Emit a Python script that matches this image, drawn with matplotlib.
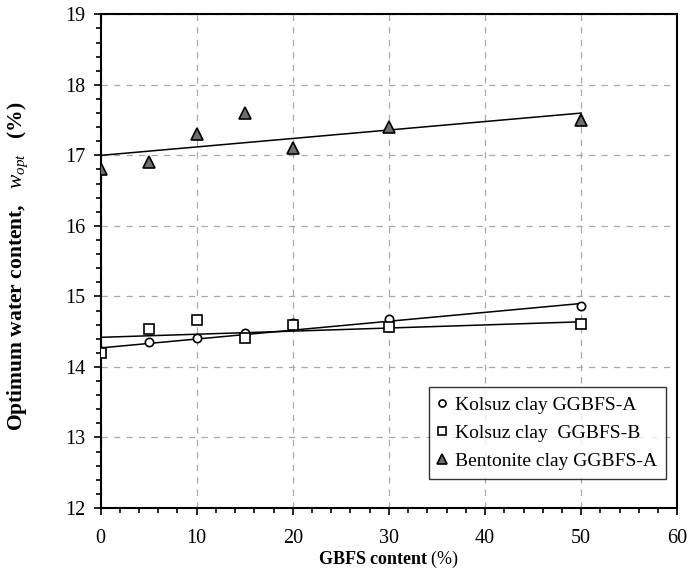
import matplotlib
matplotlib.use("Agg")
import matplotlib.pyplot as plt
from matplotlib.ticker import MultipleLocator

plt.rcParams.update({
    'font.family': 'Liberation Serif',
    'mathtext.fontset': 'custom',
    'mathtext.rm': 'Liberation Serif',
    'mathtext.it': 'Liberation Serif:italic',
    'mathtext.bf': 'Liberation Serif:bold',
})

# GBFS content (%)
gbfs = [0, 5, 10, 15, 20, 30, 50]

# optimum water content (%)
kolsuz_a = [14.22, 14.36, 14.41, 14.48, 14.62, 14.68, 14.87]
kolsuz_b = [14.20, 14.54, 14.66, 14.41, 14.60, 14.57, 14.61]
bentonite_a = [16.8, 16.9, 17.3, 17.6, 17.1, 17.4, 17.5]

# linear trend lines, values at GBFS = 0 and 50
trend_x = [0, 50]
trend_kolsuz_a = [14.27, 14.90]
trend_kolsuz_b = [14.42, 14.64]
trend_bentonite_a = [17.00, 17.60]

fig = plt.figure(figsize=(6.89, 5.74), dpi=100)
ax = fig.add_axes([0.146, 0.115, 0.837, 0.860])

ax.plot(trend_x, trend_kolsuz_a, color='black', lw=1.1, zorder=2)
ax.plot(trend_x, trend_kolsuz_b, color='black', lw=1.1, zorder=2)
ax.plot(trend_x, trend_bentonite_a, color='black', lw=1.1, zorder=2)

ax.plot(gbfs, kolsuz_a, ls='none', marker='o', ms=6, mfc='white', mec='black',
        mew=1.2, label='Kolsuz clay GGBFS-A', zorder=3)
ax.plot(gbfs, kolsuz_b, ls='none', marker='s', ms=7, mfc='white', mec='black',
        mew=1.2, label='Kolsuz clay  GGBFS-B', zorder=4)
ax.plot(gbfs, bentonite_a, ls='none', marker='^', ms=8.5, mfc='#6e6e6e', mec='black',
        mew=1.2, label='Bentonite clay GGBFS-A', zorder=3)

ax.set_xlim(0, 60)
ax.set_ylim(12, 19)
ax.xaxis.set_major_locator(MultipleLocator(10))
ax.xaxis.set_minor_locator(MultipleLocator(2))
ax.yaxis.set_major_locator(MultipleLocator(1))
ax.yaxis.set_minor_locator(MultipleLocator(0.2))
ax.tick_params(which='both', direction='out', labelsize=14.5, width=1.2)
ax.tick_params(which='major', length=5)
ax.tick_params(axis='x', which='major', pad=10)
ax.tick_params(axis='y', which='major', pad=6)
ax.tick_params(which='minor', length=3.5)
for side in ax.spines.values():
    side.set_linewidth(1.5)

ax.grid(which='major', color='#a8a8a8', ls=(0, (5, 5)), lw=0.9)
ax.set_axisbelow(True)

ax.set_xlabel(r'$\mathbf{GBFS\ content}$ (%)', fontsize=13, labelpad=1)
ax.set_ylabel(r'Optimum water content,   $w_{opt}$   (%)', fontsize=15.5,
              fontweight='bold')
ax.yaxis.set_label_coords(-0.123, 0.49)

leg = ax.legend(loc='lower right', bbox_to_anchor=(0.98, 0.059), fontsize=14,
                frameon=True, fancybox=False, edgecolor='black', handlelength=0.5,
                handletextpad=0.4, borderpad=0.45, labelspacing=0.55,
                markerscale=0.85, borderaxespad=0)
leg.get_frame().set_linewidth(1.0)

fig.savefig('out.png', dpi=100)
